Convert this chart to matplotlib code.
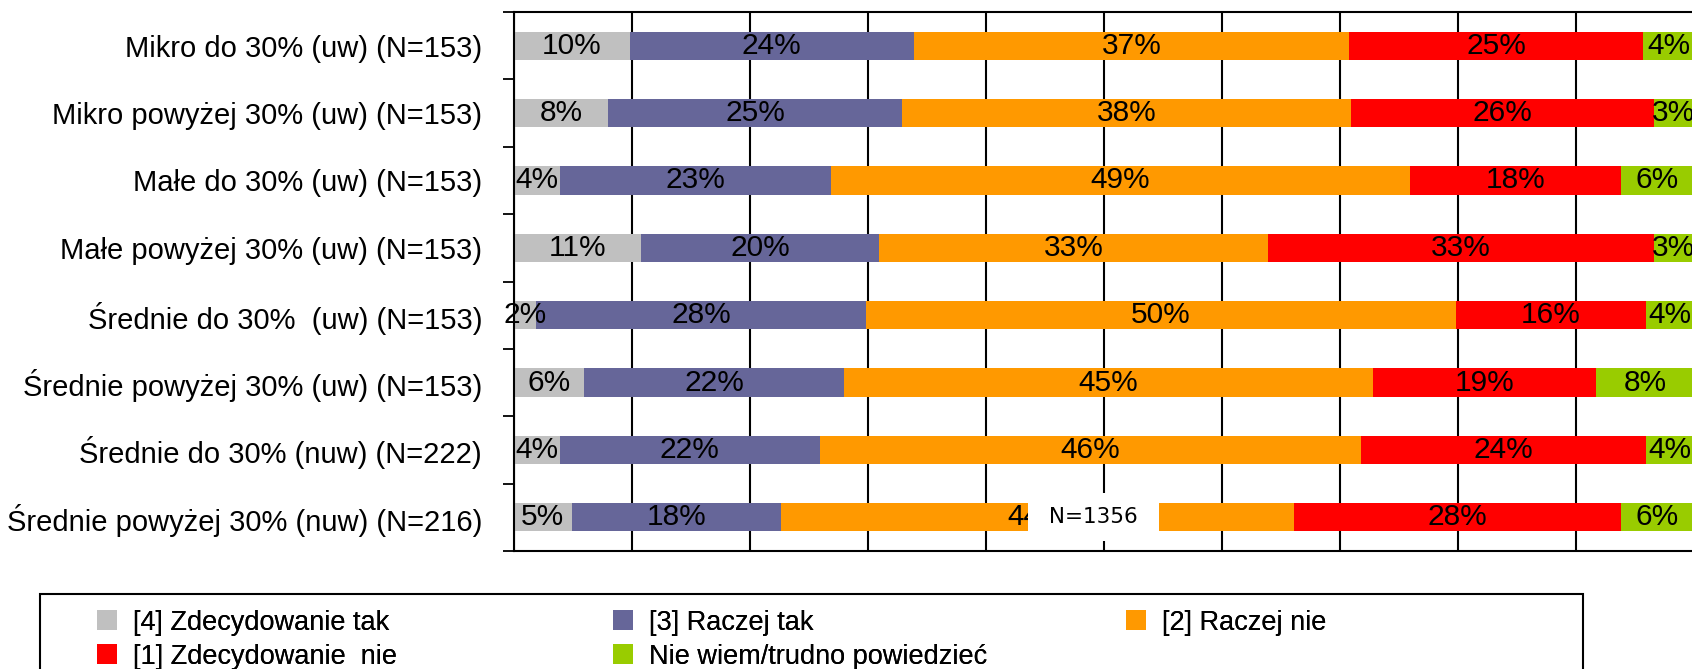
import matplotlib
matplotlib.use("Agg")
import matplotlib.pyplot as plt
from matplotlib.patches import Rectangle
import numpy as np

plt.rcParams['font.family'] = ['Liberation Sans', 'DejaVu Sans']

kategorie = ["Mikro do 30% (uw) (N=153)",
             "Mikro powyżej 30% (uw) (N=153)",
             "Małe do 30% (uw) (N=153)",
             "Małe powyżej 30% (uw) (N=153)",
             "Średnie do 30%  (uw) (N=153)",
             "Średnie powyżej 30% (uw) (N=153)",
             "Średnie do 30% (nuw) (N=222)",
             "Średnie powyżej 30% (nuw) (N=216)"]

zdecydowanie_tak = [9.8, 8.0, 3.9, 10.8, 1.9, 5.9, 3.9, 4.9]
raczej_tak = [24.1, 24.9, 23.0, 20.1, 27.9, 22.1, 22.0, 17.7]
raczej_nie = [36.9, 38.0, 49.0, 33.0, 50.0, 44.8, 45.9, 43.5]
zdecydowanie_nie = [24.9, 25.7, 17.9, 32.7, 16.1, 18.9, 24.1, 27.7]
nie_wiem = [4.3, 3.4, 6.2, 3.4, 4.1, 8.3, 4.1, 6.2]

serie = [
    ("[4] Zdecydowanie tak", zdecydowanie_tak, "#C0C0C0"),
    ("[3] Raczej tak", raczej_tak, "#666699"),
    ("[2] Raczej nie", raczej_nie, "#FF9900"),
    ("[1] Zdecydowanie  nie", zdecydowanie_nie, "#FF0000"),
    ("Nie wiem/trudno powiedzieć", nie_wiem, "#99CC00"),
]

fig = plt.figure(figsize=(16.92, 6.69), dpi=100)
ax = fig.add_axes([514/1692, 118/669, 1180/1692, 539/669])

y = np.arange(len(kategorie))
lewo = np.zeros(len(kategorie))
uchwyty = {}
for nazwa, wart, kolor in serie:
    wart = np.array(wart)
    bars = ax.barh(y, wart, left=lewo, height=0.42, color=kolor, label=nazwa, zorder=2)
    ax.bar_label(bars, labels=[f"{v:.0f}%" for v in wart], label_type='center',
                 fontsize=21.5, color='black', zorder=3)
    uchwyty[nazwa] = bars
    lewo += wart

ax.set_xlim(0, 100)
ax.set_ylim(len(kategorie) - 0.5, -0.5)
ax.set_xticks(np.arange(0, 101, 10))
ax.set_xticklabels([])
ax.tick_params(axis='x', length=0)
ax.xaxis.grid(True, color='black', linewidth=1.5, zorder=1)
ax.set_axisbelow(True)

ax.set_yticks(y)
ax.set_yticklabels(kategorie, fontsize=21)
ax.tick_params(axis='y', which='major', length=0, pad=23)
ax.set_yticks(np.arange(-0.5, len(kategorie), 1), minor=True)
ax.tick_params(axis='y', which='minor', length=8, width=1.3, color='black')

for s in ['top', 'left', 'bottom']:
    ax.spines[s].set_linewidth(1.5)
    ax.spines[s].set_color('black')
ax.spines['right'].set_visible(False)

ax.text(49.1, 7, " N=1356 ", ha='center', va='center', fontsize=15.5,
        family='DejaVu Sans', zorder=10,
        bbox=dict(boxstyle='square,pad=0.65', facecolor='white', edgecolor='none'))

# ramka legendy
fig.add_artist(Rectangle((40/1692, -0.05), (1583-40)/1692, (669-594)/669 + 0.05,
                         transform=fig.transFigure, facecolor='none',
                         edgecolor='black', linewidth=1.5))

kolumny = [
    (["[4] Zdecydowanie tak", "[1] Zdecydowanie  nie"], 75),
    (["[3] Raczej tak", "Nie wiem/trudno powiedzieć"], 591),
    (["[2] Raczej nie"], 1104),
]
for nazwy, x0 in kolumny:
    leg = fig.legend([uchwyty[n] for n in nazwy], nazwy, loc='upper left',
                     bbox_to_anchor=(x0/1692, (669-588)/669), frameon=False,
                     fontsize=19.5, handlelength=0.75, handleheight=0.75,
                     handletextpad=0.6, labelspacing=0.3, borderpad=0.3)
    fig.add_artist(leg)

fig.savefig("out.png", dpi=100)
